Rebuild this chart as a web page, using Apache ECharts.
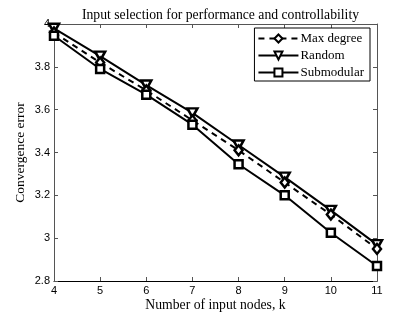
<!DOCTYPE html>
<html><head><meta charset="utf-8">
<script src="https://cdn.jsdelivr.net/npm/echarts@6/dist/echarts.min.js"></script>
<style>html,body{margin:0;padding:0;background:#fff}#c{width:415px;height:315px}</style>
</head><body><div id="c"></div>
<script>
const categories = [4, 5, 6, 7, 8, 9, 10, 11];
const maxDegree = [3.96, 3.82, 3.69, 3.55, 3.41, 3.26, 3.11, 2.95];
const random = [3.98, 3.85, 3.715, 3.585, 3.435, 3.285, 3.13, 2.97];
const submodular = [3.945, 3.79, 3.67, 3.53, 3.345, 3.20, 3.025, 2.87];
const yTicks = [2.8, 3, 3.2, 3.4, 3.6, 3.8, 4];

const serif = '"Liberation Serif","Times New Roman",serif';
const sans = '"Liberation Sans",Arial,sans-serif';
const pair = arr => categories.map((c, i) => [c, arr[i]]);
const tri = 'path://M0,0L10,0L5,10Z';

const chart = echarts.init(document.getElementById('c'), null, {renderer: 'canvas'});
const axisCommon = {
  axisLine: {show: true, lineStyle: {color: '#555', width: 1}},
  axisTick: {show: true, inside: true, length: 4, lineStyle: {color: '#555'}},
  splitLine: {show: false}
};
chart.setOption({
  animation: false,
  title: {
    text: 'Input selection for performance and controllability',
    left: 215.5, textAlign: 'center', top: 3,
    textStyle: {fontFamily: serif, fontSize: 13.7, fontWeight: 'normal', color: '#000'}
  },
  grid: {left: 54, right: 38, top: 24, bottom: 34, outerBoundsMode: 'none', containLabel: false},
  legend: {
    right: 45, top: 28, orient: 'vertical',
    itemWidth: 40, itemHeight: 10, itemGap: 4,
    padding: [4, 6, 2, 3],
    borderColor: '#000', borderWidth: 1, backgroundColor: '#fff',
    textStyle: {fontFamily: serif, fontSize: 13, color: '#000', padding: [0, 0, 0, -3]},
    data: ['Max degree', 'Random', 'Submodular']
  },
  xAxis: [
    Object.assign({type: 'value', min: 4, max: 11, interval: 1, position: 'bottom',
      name: 'Number of input nodes, k', nameLocation: 'middle', nameGap: 17, nameMoveOverlap: false,
      nameTextStyle: {fontFamily: serif, fontSize: 13.7, color: '#000'},
      axisLabel: {fontFamily: sans, fontSize: 11, color: '#000', margin: 4}}, axisCommon,
      {axisLine: {show: true, lineStyle: {color: '#000', width: 1}}}),
    Object.assign({type: 'value', min: 4, max: 11, interval: 1, position: 'top',
      axisLabel: {show: false}}, axisCommon)
  ],
  yAxis: [
    Object.assign({type: 'value', min: 2.8, max: 4, interval: 0.2, position: 'left',
      name: 'Convergence error', nameLocation: 'middle', nameGap: 27, nameMoveOverlap: false,
      nameTextStyle: {fontFamily: serif, fontSize: 13.5, color: '#000'},
      axisLabel: {fontFamily: sans, fontSize: 11, color: '#000', margin: 4,
        formatter: v => {const t = yTicks.find(y => Math.abs(y - v) < 1e-6); return t === undefined ? '' : String(t);}}}, axisCommon),
    Object.assign({type: 'value', min: 2.8, max: 4, interval: 0.2, position: 'right',
      axisLabel: {show: false}}, axisCommon)
  ],
  series: [
    {name: 'Max degree', type: 'line', data: pair(maxDegree), symbol: 'diamond', symbolSize: [8, 10],
      lineStyle: {color: '#000', width: 2, type: [6, 5]},
      itemStyle: {color: '#fff', borderColor: '#000', borderWidth: 2.5}, z: 3},
    {name: 'Random', type: 'line', data: pair(random), symbol: tri, symbolSize: [10, 9],
      lineStyle: {color: '#000', width: 2},
      itemStyle: {color: '#fff', borderColor: '#000', borderWidth: 2.5}, z: 2},
    {name: 'Submodular', type: 'line', data: pair(submodular), symbol: 'rect', symbolSize: 8,
      lineStyle: {color: '#000', width: 2},
      itemStyle: {color: '#fff', borderColor: '#000', borderWidth: 2.5}, z: 4}
  ]
});
</script></body></html>
